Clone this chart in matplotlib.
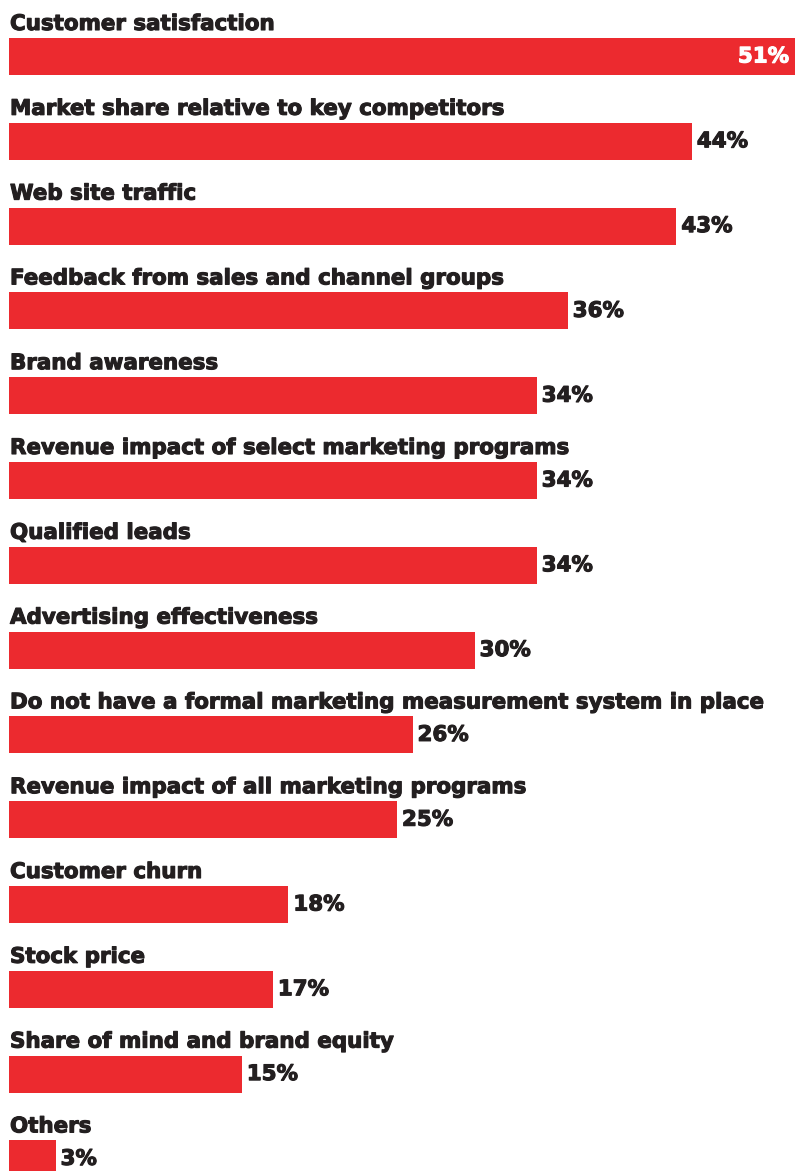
import matplotlib
matplotlib.use("Agg")
import matplotlib.pyplot as plt
import matplotlib.patheffects as pe

categories = [
    "Customer satisfaction",
    "Market share relative to key competitors",
    "Web site traffic",
    "Feedback from sales and channel groups",
    "Brand awareness",
    "Revenue impact of select marketing programs",
    "Qualified leads",
    "Advertising effectiveness",
    "Do not have a formal marketing measurement system in place",
    "Revenue impact of all marketing programs",
    "Customer churn",
    "Stock price",
    "Share of mind and brand equity",
    "Others",
]
values = [51, 44, 43, 36, 34, 34, 34, 30, 26, 25, 18, 17, 15, 3]
value_labels = [f"{v}%" for v in values]

RED = "#ec2a2f"
INK = "#231f20"
FONT = ["DejaVu Sans"]
SIZE = 15.4

W, H, DPI = 795, 1171, 100
fig = plt.figure(figsize=(W / DPI, H / DPI), dpi=DPI)
ax = fig.add_axes([0, 0, 1, 1])

px_per_unit = 15.52     # horizontal pixels per percentage point
x0_px = 9               # left edge of bars
row_px = 84.8           # vertical distance between rows
first_center_px = 56.5  # centre of first bar from top
bar_px = 37

ax.set_xlim(-x0_px / px_per_unit, (W - x0_px) / px_per_unit)
top = -first_center_px / row_px
bottom = (H - first_center_px) / row_px
ax.set_ylim(bottom, top)
ax.axis("off")

ypos = list(range(len(categories)))
bh = bar_px / row_px
ax.barh(ypos, values, height=bh, color=RED, left=0)


def heavy(color):
    # thicken the bold face slightly with a stroke of the same colour
    return [pe.withStroke(linewidth=0.8, foreground=color)]


xmax = ax.get_xlim()[1]
for i, (cat, v, lab) in enumerate(zip(categories, values, value_labels)):
    # category title above each bar
    ax.annotate(cat, xy=(0, i - bh / 2), xytext=(1, 8), textcoords="offset pixels",
                ha="left", va="baseline", fontsize=SIZE, fontweight="bold",
                family=FONT, color=INK, path_effects=heavy(INK))
    if v > xmax:
        ax.annotate(lab, xy=(xmax, i), xytext=(-6, 0), textcoords="offset pixels",
                    ha="right", va="center", fontsize=SIZE, fontweight="bold",
                    family=FONT, color="white", path_effects=heavy("white"))
    else:
        ax.annotate(lab, xy=(v, i), xytext=(5, 0), textcoords="offset pixels",
                    ha="left", va="center", fontsize=SIZE, fontweight="bold",
                    family=FONT, color=INK, path_effects=heavy(INK))

fig.savefig("out.png", dpi=DPI)
